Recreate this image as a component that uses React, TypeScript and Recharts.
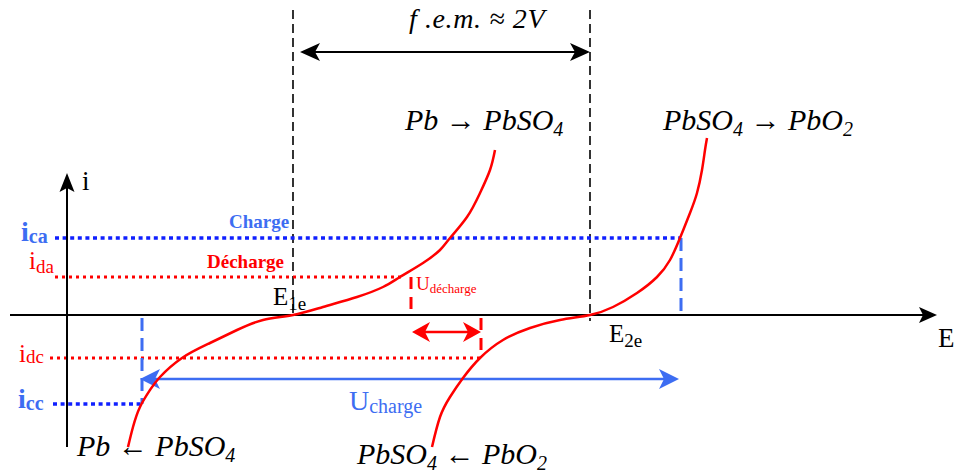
import React from 'react';
import { ComposedChart, Line, XAxis, YAxis, ReferenceLine, ReferenceDot } from 'recharts';

// Polarisation curves i = f(E) (E in arbitrary units, i in arbitrary units)
const electrodePb = [
  { E: 128, i: -132 }, { E: 133, i: -112 }, { E: 140, i: -92 }, { E: 150, i: -75 },
  { E: 160, i: -62 }, { E: 182, i: -43 }, { E: 210, i: -28 }, { E: 237, i: -15 },
  { E: 263, i: -5 }, { E: 293, i: 0 }, { E: 323, i: 8 }, { E: 357, i: 18 },
  { E: 383, i: 28 }, { E: 400, i: 38 }, { E: 423, i: 52 }, { E: 440, i: 65 },
  { E: 450, i: 77 }, { E: 467, i: 98 }, { E: 480, i: 122 }, { E: 490, i: 145 },
  { E: 495, i: 165 },
];
const electrodePbO2 = [
  { E: 432, i: -132 }, { E: 440, i: -102 }, { E: 450, i: -82 }, { E: 463, i: -63 },
  { E: 480, i: -43 }, { E: 503, i: -25 }, { E: 530, i: -13 }, { E: 560, i: -5 },
  { E: 590, i: 0 }, { E: 613, i: 8 }, { E: 637, i: 22 }, { E: 657, i: 38 },
  { E: 670, i: 55 }, { E: 680, i: 77 }, { E: 690, i: 102 }, { E: 697, i: 122 },
  { E: 702, i: 145 }, { E: 705, i: 165 }, { E: 707, i: 177 },
];

// Characteristic potentials and currents
const potentials = { E1e: 293, E2e: 590, EdechA: 411, EdechC: 481, EchC: 142, EchA: 681 };
const currents = { ica: 77, ida: 38, idc: -43, icc: -89 };

const labelsText = {
  fem: 'f .e.m. ≈ 2V',
  charge: 'Charge',
  decharge: 'Décharge',
  uDech: ['U', 'décharge'],
  uCh: ['U', 'charge'],
};

const SERIF = '"Liberation Serif", "Times New Roman", Times, serif';
const RED = '#ff0000';
const BLUE = '#3d6df2';
const BLUE_DOT = '#1020ff';

type Part = { t: string; sub?: boolean; size?: number; font?: string; style?: string };

function parts(list: Part[], size: number, subSize: number, subDy: number) {
  let shifted = false;
  return list.map((p, k) => {
    if (p.sub) {
      const el = (
        <tspan key={k} fontSize={subSize} dy={shifted ? 0 : subDy}>
          {p.t}
        </tspan>
      );
      shifted = true;
      return el;
    }
    const el = (
      <tspan
        key={k}
        fontSize={p.size ?? size}
        fontFamily={p.font}
        fontStyle={p.style}
        dy={shifted ? -subDy : 0}
      >
        {p.t}
      </tspan>
    );
    shifted = false;
    return el;
  });
}

function label(
  key: string,
  x: number,
  y: number,
  list: Part[],
  opts: {
    size: number;
    subSize?: number;
    subDy?: number;
    color?: string;
    italic?: boolean;
    bold?: boolean;
    spacing?: number;
  }
) {
  const { size, subSize = size * 0.7, subDy = size * 0.25, color = '#000', italic = false, bold = false, spacing = 0 } = opts;
  return (
    <ReferenceDot
      key={key}
      x={x}
      y={y}
      r={0}
      ifOverflow="visible"
      shape={(p: any) => (
        <text
          x={p.cx}
          y={p.cy}
          fill={color}
          fontFamily={SERIF}
          fontStyle={italic ? 'italic' : 'normal'}
          fontWeight={bold ? 'bold' : 'normal'}
          letterSpacing={spacing}
          style={{ whiteSpace: 'pre' }}
        >
          {parts(list, size, subSize, subDy)}
        </text>
      )}
    />
  );
}

function head(tx: number, ty: number, ux: number, uy: number, L: number, W: number, N: number, color: string) {
  const nx = -uy;
  const ny = ux;
  const bx = tx - L * ux;
  const by = ty - L * uy;
  const pts = [
    [tx, ty],
    [bx + W * nx, by + W * ny],
    [tx - (L - N) * ux, ty - (L - N) * uy],
    [bx - W * nx, by - W * ny],
  ]
    .map((q) => q.join(','))
    .join(' ');
  return <polygon points={pts} fill={color} stroke="none" />;
}

const arrowShape =
  (color: string, width: number, L: number, W: number, N: number, start: boolean, end: boolean) =>
  (p: any) => {
    const { x1, y1, x2, y2 } = p;
    const dx = x2 - x1;
    const dy = y2 - y1;
    const len = Math.sqrt(dx * dx + dy * dy) || 1;
    const ux = dx / len;
    const uy = dy / len;
    const sx = start ? x1 + (L - N) * ux : x1;
    const sy = start ? y1 + (L - N) * uy : y1;
    const ex = end ? x2 - (L - N) * ux : x2;
    const ey = end ? y2 - (L - N) * uy : y2;
    return (
      <g>
        <line x1={sx} y1={sy} x2={ex} y2={ey} stroke={color} strokeWidth={width} />
        {start ? head(x1, y1, -ux, -uy, L, W, N, color) : null}
        {end ? head(x2, y2, ux, uy, L, W, N, color) : null}
      </g>
    );
  };

function seg(key: string, a: [number, number], b: [number, number], props: any) {
  return (
    <ReferenceLine
      key={key}
      segment={[{ x: a[0], y: a[1] }, { x: b[0], y: b[1] }]}
      ifOverflow="visible"
      {...props}
    />
  );
}

const ARROW_SIZE = 30;
const arrowR: Part = { t: '→', size: ARROW_SIZE, style: 'normal' };
const arrowL: Part = { t: '←', size: ARROW_SIZE, style: 'normal' };

export default function App() {
  const { E1e, E2e, EdechA, EdechC, EchC, EchA } = potentials;
  const { ica, ida, idc, icc } = currents;
  const chem = { size: 30, subSize: 20, subDy: 6, italic: true };
  return (
    <div style={{ position: 'absolute', left: 0, top: 0, width: 958, height: 473, background: '#fff' }}>
      <ComposedChart width={958} height={473} margin={{ top: 0, right: 0, bottom: 0, left: 0 }}>
        <XAxis type="number" dataKey="E" domain={[0, 958]} hide allowDataOverflow />
        <YAxis type="number" dataKey="i" domain={[-158, 315]} hide allowDataOverflow />

        {/* black dashed equilibrium lines */}
        {seg('v1', [E1e, 305], [E1e, -3], { stroke: '#000', strokeWidth: 1.6, strokeDasharray: '9 5' })}
        {seg('v2', [E2e, 305], [E2e, -6], { stroke: '#000', strokeWidth: 1.6, strokeDasharray: '9 5' })}

        {/* current levels */}
        {seg('ica', [55, ica], [EchA, ica], { stroke: BLUE_DOT, strokeWidth: 3.5, strokeDasharray: '4 3.6' })}
        {seg('ida', [55, ida], [EdechA - 10, ida], { stroke: RED, strokeWidth: 3, strokeDasharray: '3 4' })}
        {seg('idc', [50, idc], [EdechC, idc], { stroke: RED, strokeWidth: 3, strokeDasharray: '3 4' })}
        {seg('icc', [53, icc], [EchC, icc], { stroke: BLUE_DOT, strokeWidth: 3.5, strokeDasharray: '4 3.6' })}

        {/* vertical projections */}
        {seg('pa', [EchA, ica], [EchA, 1], { stroke: BLUE, strokeWidth: 3, strokeDasharray: '13 7' })}
        {seg('pc', [EchC, -3], [EchC, icc], { stroke: BLUE, strokeWidth: 3, strokeDasharray: '13 7' })}
        {seg('pda', [EdechA, ida], [EdechA, 4], { stroke: RED, strokeWidth: 3, strokeDasharray: '12 8' })}
        {seg('pdc', [EdechC, -3], [EdechC, idc], { stroke: RED, strokeWidth: 3, strokeDasharray: '12 8' })}

        {/* axes */}
        {seg('Eaxis', [10, 0], [937, 0], { shape: arrowShape('#000', 2, 18, 8, 4, false, true) })}
        {seg('iaxis', [67, -132], [67, 142], { shape: arrowShape('#000', 2, 19, 7.5, 4, false, true) })}

        {/* arrows */}
        {seg('fem', [300, 263], [590, 263], { shape: arrowShape('#000', 2, 20, 9, 5, true, true) })}
        {seg('udech', [412, -17], [481, -17], { shape: arrowShape(RED, 2.5, 18, 10, 5, true, true) })}
        {seg('uch', [140, -64], [679, -64], { shape: arrowShape(BLUE, 2.5, 20, 10, 5, true, true) })}

        <Line data={electrodePb} dataKey="i" type="natural" stroke={RED} strokeWidth={2.5} dot={false} activeDot={false} isAnimationActive={false} />
        <Line data={electrodePbO2} dataKey="i" type="natural" stroke={RED} strokeWidth={2.5} dot={false} activeDot={false} isAnimationActive={false} />

        {/* texts */}
        {label('fem', 409, 287, [{ t: labelsText.fem }], { size: 28, italic: true, spacing: 0.6 })}
        {label('r1', 405, 185, [{ t: 'Pb ' }, arrowR, { t: ' PbSO' }, { t: '4', sub: true }], chem)}
        {label('r2', 663, 185, [{ t: 'PbSO' }, { t: '4', sub: true }, { t: ' ' }, arrowR, { t: ' PbO' }, { t: '2', sub: true }], chem)}
        {label('r3', 77, -141, [{ t: 'Pb ' }, arrowL, { t: ' PbSO' }, { t: '4', sub: true }], chem)}
        {label('r4', 357, -149, [{ t: 'PbSO' }, { t: '4', sub: true }, { t: ' ' }, arrowL, { t: ' PbO' }, { t: '2', sub: true }], chem)}
        {label('E1', 273, 10, [{ t: 'E' }, { t: '1e', sub: true }], { size: 25, subSize: 19, subDy: 5 })}
        {label('E2', 609, -27, [{ t: 'E' }, { t: '2e', sub: true }], { size: 25, subSize: 19, subDy: 5 })}
        {label('E', 938, -32, [{ t: 'E' }], { size: 27 })}
        {label('i', 82, 125, [{ t: 'i' }], { size: 27 })}
        {label('ica', 21, 74, [{ t: 'i' }, { t: 'ca', sub: true }], { size: 28, subSize: 20, subDy: 2, color: BLUE, bold: true })}
        {label('ida', 29, 46, [{ t: 'i' }, { t: 'da', sub: true }], { size: 25, subSize: 19, subDy: 4, color: RED })}
        {label('idc', 19, -47, [{ t: 'i' }, { t: 'dc', sub: true }], { size: 25, subSize: 19, subDy: 1, color: RED })}
        {label('icc', 18, -93, [{ t: 'i' }, { t: 'cc', sub: true }], { size: 28, subSize: 20, subDy: 2, color: BLUE, bold: true })}
        {label('charge', 229, 87, [{ t: labelsText.charge }], { size: 19, color: BLUE, bold: true })}
        {label('decharge', 207, 47, [{ t: labelsText.decharge }], { size: 19, color: RED, bold: true })}
        {label('ud', 416, 25, [{ t: labelsText.uDech[0] }, { t: labelsText.uDech[1], sub: true }], { size: 19, subSize: 13, subDy: 3, color: RED })}
        {label('uc', 349, -95, [{ t: labelsText.uCh[0] }, { t: labelsText.uCh[1], sub: true }], { size: 28, subSize: 20, subDy: 3, color: BLUE })}
      </ComposedChart>
    </div>
  );
}
